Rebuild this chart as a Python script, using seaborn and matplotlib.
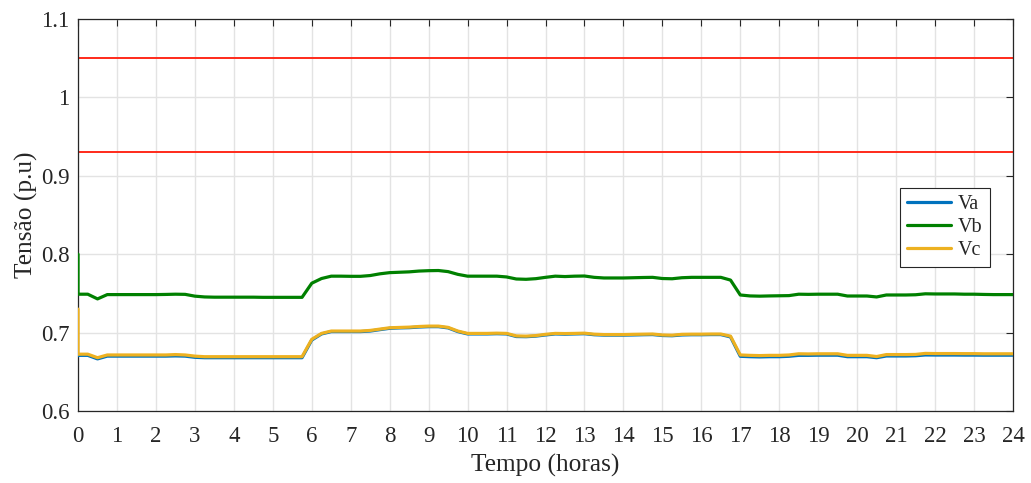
import numpy as np
import pandas as pd
import matplotlib
matplotlib.use("Agg")
import matplotlib.pyplot as plt
import seaborn as sns

# Time axis: initial sample at t=0, then every 15 minutes over 24 h
horas = np.concatenate([[0.0], np.arange(0.0, 24.0 + 1e-9, 0.25)])

va = [0.6705,
      0.671, 0.671, 0.6665, 0.670, 0.670, 0.670, 0.670, 0.670,
      0.670, 0.670, 0.6703, 0.670, 0.6685, 0.668, 0.668, 0.668,
      0.668, 0.668, 0.668, 0.668, 0.668, 0.668, 0.668, 0.668,
      0.6905, 0.6983, 0.7013, 0.7013, 0.7013, 0.7013, 0.702, 0.7038,
      0.7055, 0.706, 0.7063, 0.7071, 0.7076, 0.7076, 0.706, 0.7013,
      0.6983, 0.6983, 0.6983, 0.6986, 0.6983, 0.695, 0.6948, 0.6955,
      0.697, 0.6983, 0.698, 0.6983, 0.6986, 0.6973, 0.6968, 0.6968,
      0.6968, 0.697, 0.6973, 0.6975, 0.6963, 0.696, 0.697, 0.6973,
      0.6973, 0.6975, 0.6975, 0.6945, 0.6698, 0.6693, 0.669, 0.6693,
      0.6693, 0.6698, 0.671, 0.671, 0.6712, 0.6712, 0.6712, 0.6693,
      0.6693, 0.6693, 0.668, 0.6702, 0.6702, 0.6702, 0.6705, 0.6715,
      0.6714, 0.6714, 0.6714, 0.6713, 0.6713, 0.6712, 0.6712, 0.6712,
      0.6712]

vb = [0.800,
      0.749, 0.749, 0.743, 0.7485, 0.7485, 0.7485, 0.7485, 0.7485,
      0.7485, 0.7487, 0.749, 0.7488, 0.7465, 0.7455, 0.7452, 0.7452,
      0.7452, 0.7452, 0.7452, 0.745, 0.745, 0.745, 0.745, 0.745,
      0.763, 0.769, 0.772, 0.772, 0.7718, 0.7718, 0.7728, 0.775,
      0.7765, 0.777, 0.7775, 0.7785, 0.779, 0.7792, 0.7778, 0.7743,
      0.772, 0.772, 0.772, 0.772, 0.771, 0.7684, 0.768, 0.7688,
      0.7705, 0.772, 0.7715, 0.772, 0.7722, 0.7705, 0.7697, 0.7697,
      0.7697, 0.770, 0.7703, 0.7705, 0.769, 0.7687, 0.770, 0.7705,
      0.7705, 0.7705, 0.7705, 0.767, 0.748, 0.7468, 0.7465, 0.7468,
      0.747, 0.7472, 0.749, 0.7488, 0.749, 0.749, 0.749, 0.7467,
      0.7467, 0.7467, 0.7455, 0.748, 0.748, 0.748, 0.7483, 0.7495,
      0.7493, 0.7493, 0.7493, 0.749, 0.749, 0.7487, 0.7485, 0.7485,
      0.7485]

vc = [0.730,
      0.6725, 0.6725, 0.668, 0.6715, 0.6715, 0.6715, 0.6715, 0.6715,
      0.6715, 0.6715, 0.672, 0.6715, 0.670, 0.6693, 0.6693, 0.6693,
      0.6693, 0.6693, 0.6693, 0.6693, 0.6693, 0.6693, 0.6693, 0.6693,
      0.6915, 0.699, 0.702, 0.702, 0.702, 0.702, 0.7028, 0.7045,
      0.7062, 0.7066, 0.707, 0.7078, 0.7083, 0.7083, 0.7067, 0.702,
      0.699, 0.699, 0.699, 0.6993, 0.699, 0.6958, 0.6955, 0.6962,
      0.6978, 0.699, 0.6988, 0.699, 0.6993, 0.698, 0.6975, 0.6975,
      0.6975, 0.6978, 0.698, 0.6982, 0.697, 0.6967, 0.6978, 0.698,
      0.698, 0.6982, 0.6982, 0.6955, 0.6715, 0.671, 0.6707, 0.671,
      0.671, 0.6715, 0.673, 0.6728, 0.673, 0.673, 0.673, 0.671,
      0.671, 0.671, 0.6695, 0.672, 0.672, 0.672, 0.6722, 0.6735,
      0.6733, 0.6733, 0.6733, 0.6732, 0.6732, 0.673, 0.673, 0.673,
      0.673]

fases = ["Va", "Vb", "Vc"]
limites = [1.05, 0.93]
x_ticks = list(range(0, 25))
y_ticks = [0.6, 0.7, 0.8, 0.9, 1.0, 1.1]
y_ticklabels = ["0.6", "0.7", "0.8", "0.9", "1", "1.1"]

cores = {"Va": "#0072BD", "Vb": "#008000", "Vc": "#EDB120"}

df = pd.concat([
    pd.DataFrame({"t": horas, "v": vals, "fase": nome})
    for nome, vals in zip(fases, [va, vb, vc])
], ignore_index=True)

sns.set_style("white")
plt.rcParams["font.family"] = ["Liberation Serif", "DejaVu Serif"]

fig = plt.figure(figsize=(10.31, 4.83), dpi=100)
ax = fig.add_axes([0.0757, 0.149, 0.9068, 0.8117])

ax.set_axisbelow(True)
ax.grid(True, color="#e3e3e3", linewidth=1.0)

for lim in limites:
    ax.axhline(lim, color="#ff2a1a", linewidth=1.4, zorder=2)

sns.lineplot(data=df, x="t", y="v", hue="fase", palette=cores,
             estimator=None, sort=False, units="fase", linewidth=2.3,
             ax=ax, zorder=3)

ax.set_xlim(0, 24)
ax.set_ylim(0.6, 1.1)
ax.set_xticks(x_ticks)
ax.set_xticklabels([str(v) for v in x_ticks])
ax.set_yticks(y_ticks)
ax.set_yticklabels(y_ticklabels)
ax.tick_params(axis="both", direction="in", length=5, width=0.8,
               color="#262626", labelsize=16.5, labelcolor="#262626",
               top=True, right=True)
ax.tick_params(axis="x", pad=11)
ax.tick_params(axis="y", pad=6)

for s in ax.spines.values():
    s.set_visible(True)
    s.set_color("#262626")
    s.set_linewidth(0.9)

ax.set_xlabel("Tempo (horas)", fontsize=18.3, color="#262626", labelpad=5)
ax.set_ylabel("Tensão (p.u)", fontsize=18.3, color="#262626", labelpad=2)

leg = ax.legend(loc="center right", bbox_to_anchor=(0.975, 0.468),
                fontsize=14.5, frameon=True, fancybox=False, framealpha=1,
                edgecolor="#262626", handlelength=2.2, handletextpad=0.35,
                labelspacing=0.2, borderpad=0.35, borderaxespad=0)
leg.get_frame().set_linewidth(0.8)
for line in leg.get_lines():
    line.set_linewidth(2.3)

fig.savefig("out.png", dpi=100)
